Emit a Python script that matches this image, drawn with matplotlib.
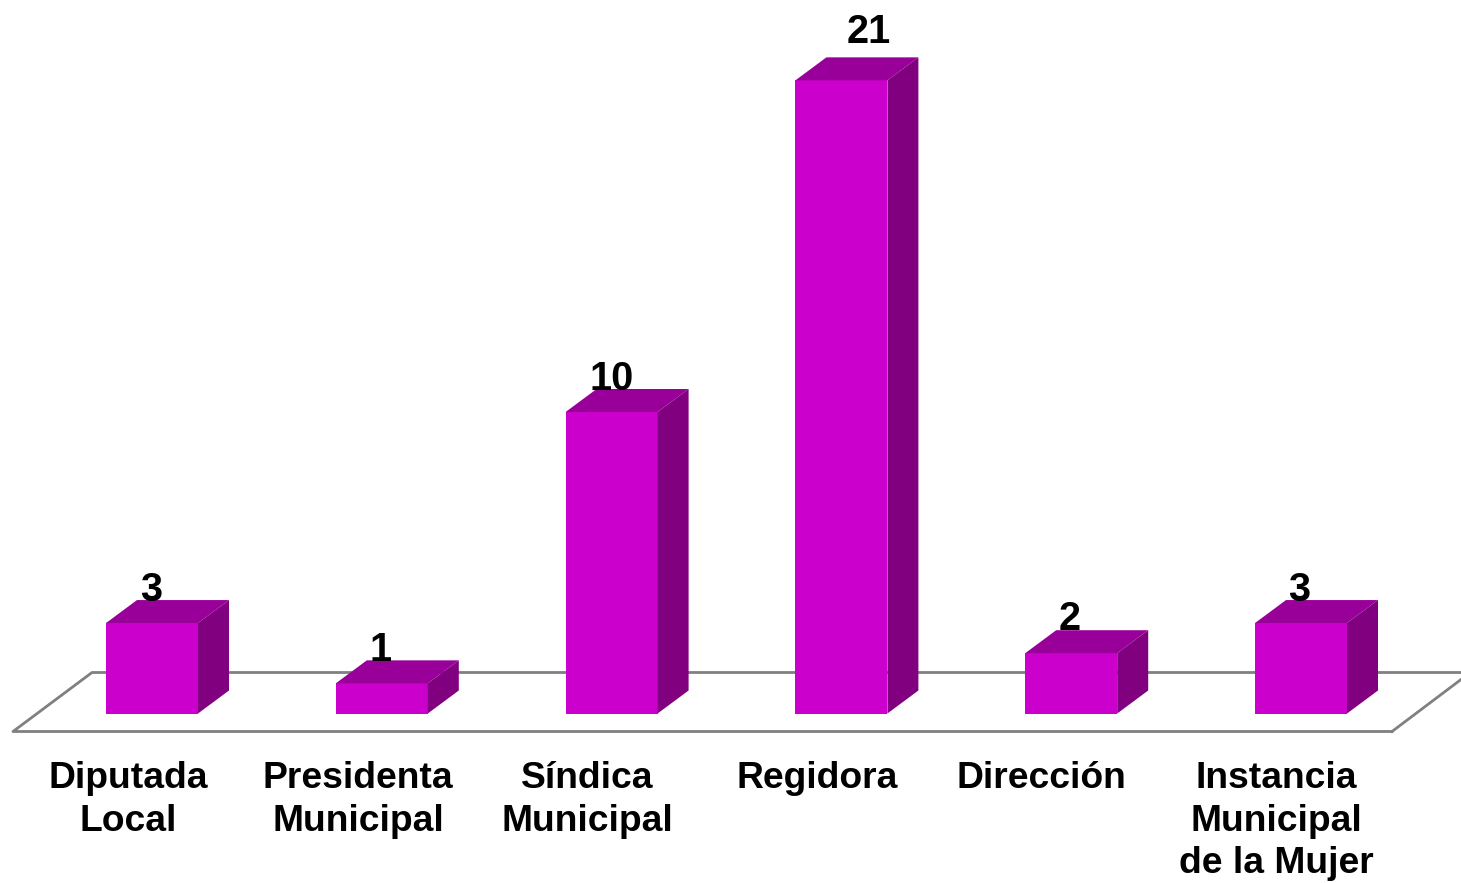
import matplotlib
matplotlib.use('Agg')
import matplotlib.pyplot as plt
from matplotlib.patches import Polygon

categories = ['Diputada\nLocal', 'Presidenta\nMunicipal', 'Síndica\nMunicipal',
              'Regidora', 'Dirección', 'Instancia\nMunicipal\nde la Mujer']
values = [3, 1, 10, 21, 2, 3]

W, H = 1461, 883
step = 229.8      # px between bars
unit = 30.15      # px per value
x0 = 152          # px centre of first bar
base = 713.5      # px of the zero line

bar_w = 92 / step
dx = 31 / step
dy = 23 / unit

fig = plt.figure(figsize=(W / 100, H / 100), dpi=100)
ax = fig.add_axes([0, 0, 1, 1])
ax.set_xlim(-x0 / step, (W - x0) / step)
ax.set_ylim(-(H - base) / unit, base / unit)
ax.axis('off')

# floor of the 3d chart
fx = [(13 - x0) / step, (92 - x0) / step, (1461 - x0) / step, (1392 - x0) / step]
fy = [(base - 731.5) / unit, (base - 672.5) / unit]
ax.plot([fx[3], fx[0], fx[1], fx[2]], [fy[0], fy[0], fy[1], fy[1]], color='#808080', lw=2, zorder=1)
ax.plot([fx[3], fx[3] + 69 / step], [fy[0], fy[0] + 52 / unit], color='#808080', lw=2, zorder=1)

for i, v in enumerate(values):
    l = i - bar_w / 2
    r = i + bar_w / 2
    ax.bar(i, v, width=bar_w, color='#CC00CC', lw=0, zorder=3)
    ax.add_patch(Polygon([(l, v), (r, v), (r + dx, v + dy), (l + dx, v + dy)], color='#990099', lw=0, zorder=3))
    ax.add_patch(Polygon([(r, 0), (r + dx, dy), (r + dx, v + dy), (r, v)], color='#800080', lw=0, zorder=3))

font = {'family': 'Liberation Sans', 'weight': 'bold', 'color': 'black'}
# hand placed value labels, px offsets from bar centre / top of the bar
off_x = [-1, -1, 0, 27, -2, -2]
off_y = [33, 33, 33, 48, 34, 33]
for i, v in enumerate(values):
    ax.text(i + off_x[i] / step, v + off_y[i] / unit, str(v), ha='center', va='center', fontsize=28.5, zorder=4, **font)

label_px = [128, 358, 587, 817, 1041, 1276]
for x, c in zip(label_px, categories):
    ax.text((x - x0) / step, (base - 761) / unit, c, ha='center', va='top', fontsize=26.8,
            linespacing=1.28, **font)

fig.savefig('out.png', dpi=100)
